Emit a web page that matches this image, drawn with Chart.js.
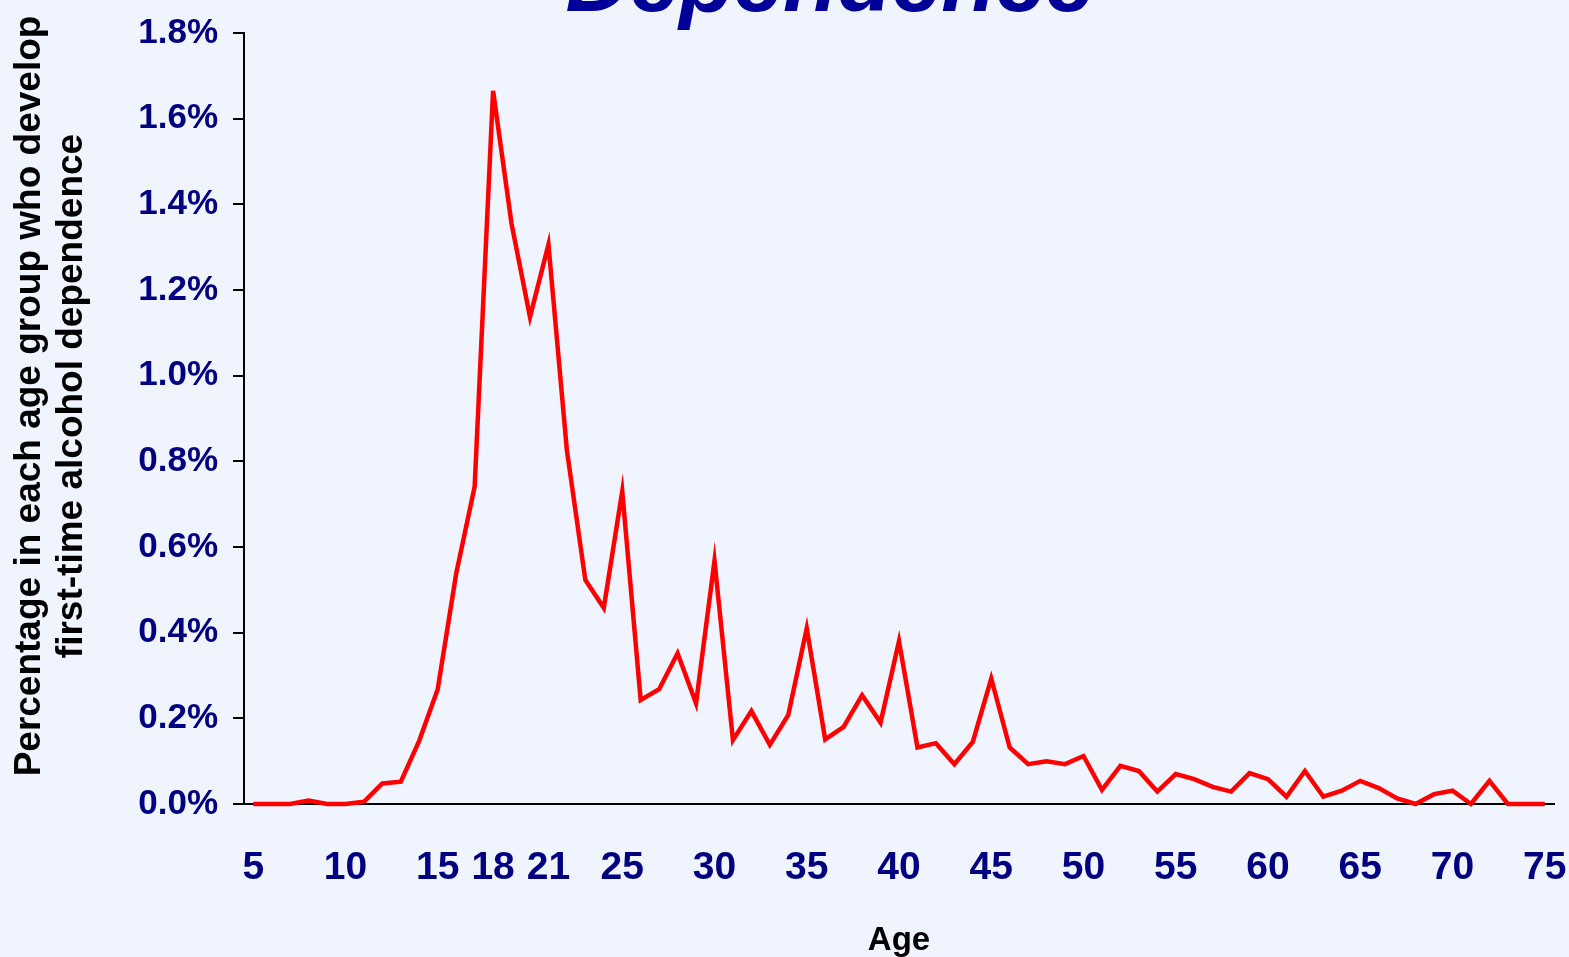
<!DOCTYPE html>
<html>
<head>
<meta charset="utf-8">
<script src="https://cdn.jsdelivr.net/npm/chart.js@4"></script>
<style>
  html, body { margin: 0; padding: 0; background: #EFF4FF; }
  #wrap { width: 1569px; height: 957px; position: relative; }
  canvas { display: block; }
</style>
</head>
<body>
<div id="wrap"><canvas id="c" width="1569" height="957"></canvas></div>
<script>
// Age of onset, years 5 through 75
const ages = [
  5, 6, 7, 8, 9, 10, 11, 12, 13, 14, 15, 16, 17, 18, 19, 20, 21, 22, 23, 24,
  25, 26, 27, 28, 29, 30, 31, 32, 33, 34, 35, 36, 37, 38, 39, 40, 41, 42, 43, 44,
  45, 46, 47, 48, 49, 50, 51, 52, 53, 54, 55, 56, 57, 58, 59, 60, 61, 62, 63, 64,
  65, 66, 67, 68, 69, 70, 71, 72, 73, 74, 75
];

// Percentage in each age group developing first-time alcohol dependence
const onsetPercent = [
  0.000, 0.000, 0.000, 0.008, 0.000, 0.000, 0.005, 0.048, 0.052, 0.148,
  0.268, 0.538, 0.741, 1.665, 1.355, 1.137, 1.306, 0.826, 0.523, 0.458,
  0.730, 0.243, 0.268, 0.352, 0.235, 0.568, 0.149, 0.217, 0.138, 0.208,
  0.410, 0.151, 0.180, 0.254, 0.190, 0.380, 0.132, 0.142, 0.093, 0.145,
  0.293, 0.132, 0.093, 0.100, 0.093, 0.112, 0.033, 0.089, 0.077, 0.029,
  0.070, 0.058, 0.040, 0.029, 0.072, 0.058, 0.017, 0.077, 0.017, 0.031,
  0.054, 0.037, 0.013, 0.000, 0.023, 0.031, 0.000, 0.054, 0.000, 0.000,
  0.000
];

// Ages that get a label on the horizontal axis
const labelledAges = [5, 10, 15, 18, 21, 25, 30, 35, 40, 45, 50, 55, 60, 65, 70, 75];

const titleText = 'Dependence';
const xTitle = 'Age';
const yTitleLines = ['Percentage in each age group who develop', 'first-time alcohol dependence'];

const FONT = '"Liberation Sans", Arial, sans-serif';
const NAVY = '#000080';

// Draws the background and the three titles at fixed spots
const titlesPlugin = {
  id: 'titles',
  beforeDraw(chart) {
    const ctx = chart.ctx;
    ctx.save();
    ctx.fillStyle = '#EFF4FF';
    ctx.fillRect(0, 0, chart.width, chart.height);
    ctx.restore();
  },
  afterDraw(chart) {
    const ctx = chart.ctx;
    ctx.save();
    ctx.textBaseline = 'alphabetic';
    ctx.textAlign = 'center';

    ctx.fillStyle = '#000099';
    ctx.font = 'italic bold 89px ' + FONT;
    ctx.fillText(titleText, 830, 11);

    ctx.fillStyle = '#000000';
    ctx.font = 'bold 33px ' + FONT;
    ctx.fillText(xTitle, 899, 950);

    ctx.font = 'bold 37px ' + FONT;
    const baselines = [40, 82];
    yTitleLines.forEach((line, i) => {
      ctx.save();
      ctx.translate(baselines[i], 396);
      ctx.rotate(-Math.PI / 2);
      ctx.fillText(line, 0, 0);
      ctx.restore();
    });
    ctx.restore();
  }
};

new Chart(document.getElementById('c'), {
  type: 'line',
  data: {
    labels: ages,
    datasets: [{
      data: onsetPercent,
      borderColor: '#FF0000',
      borderWidth: 4.5,
      pointRadius: 0,
      pointHoverRadius: 0,
      tension: 0,
      fill: false,
      clip: false
    }]
  },
  options: {
    responsive: false,
    animation: false,
    devicePixelRatio: 1,
    layout: { padding: { top: 33, right: 15, bottom: 0, left: 0 } },
    plugins: {
      legend: { display: false },
      title: { display: false },
      tooltip: { enabled: false }
    },
    scales: {
      x: {
        type: 'category',
        offset: true,
        grid: { display: false, drawTicks: false },
        border: { display: true, color: '#000000', width: 2 },
        ticks: {
          autoSkip: false,
          maxRotation: 0,
          minRotation: 0,
          padding: 41,
          color: NAVY,
          font: { family: FONT, size: 39, weight: 'bold' },
          callback(value, index) {
            const age = ages[index];
            return labelledAges.includes(age) ? String(age) : '';
          }
        },
        afterFit(scale) {
          scale.height = 153;
          scale.paddingLeft = 0;
          scale.paddingRight = 0;
        }
      },
      y: {
        min: 0,
        max: 1.8,
        grid: {
          display: true,
          drawOnChartArea: false,
          drawTicks: true,
          tickLength: 11,
          color: '#000000',
          lineWidth: 2
        },
        border: { display: true, color: '#000000', width: 2 },
        ticks: {
          stepSize: 0.2,
          padding: 15,
          color: NAVY,
          font: { family: FONT, size: 35, weight: 'bold' },
          callback(value) { return value.toFixed(1) + '%'; }
        },
        afterFit(scale) {
          scale.width = 244;
          scale.paddingTop = 0;
          scale.paddingBottom = 0;
        }
      }
    }
  },
  plugins: [titlesPlugin]
});
</script>
</body>
</html>
